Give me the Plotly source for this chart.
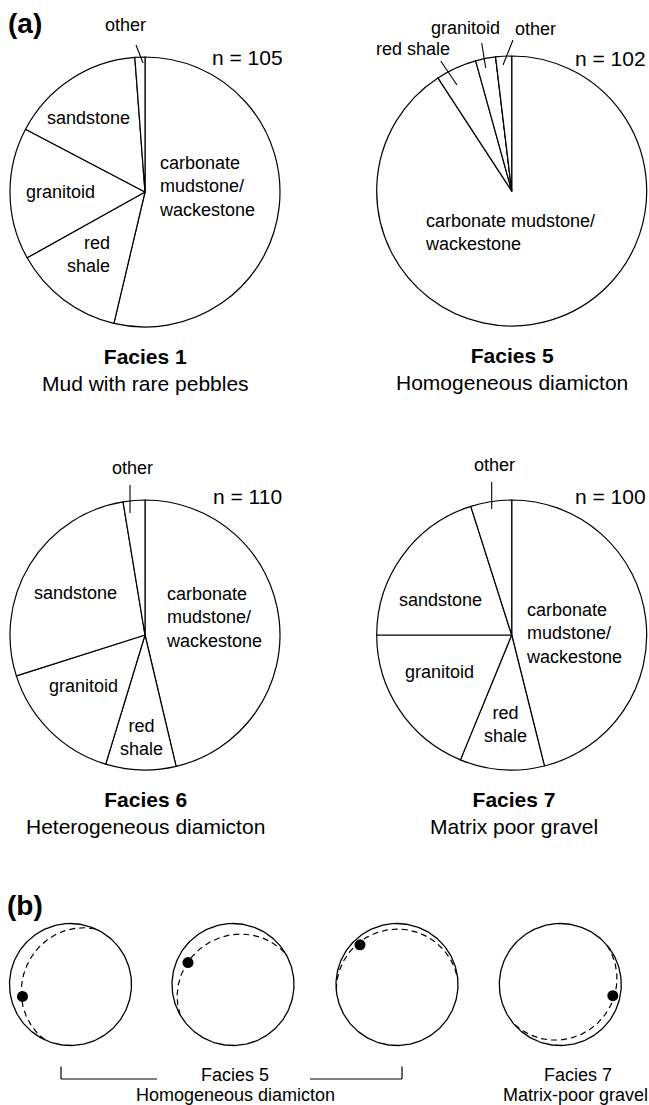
import numpy as np
import plotly.graph_objects as go

# ---------------- data ----------------
categories = ["carbonate mudstone/wackestone", "red shale", "granitoid", "sandstone", "other"]
facies1_pct = [53.7, 13.2, 15.8, 16.1, 1.2]
facies5_pct = [90.8, 4.9, 2.4, 0.0, 1.9]
facies6_pct = [46.3, 8.4, 15.4, 27.3, 2.6]
facies7_pct = [46.1, 10.1, 18.8, 20.1, 4.9]
sample_n = [105, 102, 110, 100]
facies_names = ["Facies 1", "Facies 5", "Facies 6", "Facies 7"]
facies_desc = ["Mud with rare pebbles", "Homogeneous diamicton",
               "Heterogeneous diamicton", "Matrix poor gravel"]

# (b) clast fabric stereonets: S1-S2 plane (dip direction, dip) and V1 (trend, plunge)
plane_dipdir = [295, 330, 355, 140]
plane_dip = [23, 22, 10, 13]
v1_trend = [256, 296, 317, 102]
v1_plunge = [20, 19, 12, 13]

# ---------------- layout constants ----------------
W, H = 649, 1105
FONT = "Arial, Liberation Sans, sans-serif"
pie_cx = [145, 511.7, 145, 511.7]
pie_cy = [192, 191, 635, 635]
pie_r = 135
net_cx = [70.5, 233.0, 397.0, 560.3]
net_cy = 984.5
net_r = 61

fig = go.Figure()

# ---------------- pies ----------------
for vals, cx, cy in zip([facies1_pct, facies5_pct, facies6_pct, facies7_pct], pie_cx, pie_cy):
    fig.add_trace(go.Pie(
        values=vals, labels=categories, sort=False, direction="clockwise", rotation=0,
        marker=dict(colors=["white"] * len(vals), line=dict(color="black", width=1.2)),
        textinfo="none", hoverinfo="skip", showlegend=False,
        domain=dict(x=[(cx - pie_r) / W, (cx + pie_r) / W],
                    y=[1 - (cy + pie_r) / H, 1 - (cy - pie_r) / H]),
    ))


# ---------------- stereonets ----------------
def eqarea(trend, plunge, R):
    r = R * np.sqrt(2) * np.sin(np.radians(90 - np.asarray(plunge)) / 2)
    t = np.radians(trend)
    return r * np.sin(t), r * np.cos(t)


def plane_curve(dipdir, dip, R, n=181):
    s = np.radians(dipdir - 90)
    dd = np.radians(dipdir)
    d = np.radians(dip)
    sv = np.array([np.sin(s), np.cos(s), 0.0])
    dv = np.array([np.sin(dd) * np.cos(d), np.cos(dd) * np.cos(d), np.sin(d)])
    rake = np.linspace(0, np.pi, n)
    v = np.outer(np.cos(rake), sv) + np.outer(np.sin(rake), dv)
    trend = np.degrees(np.arctan2(v[:, 0], v[:, 1]))
    plunge = np.degrees(np.arcsin(np.clip(v[:, 2], -1, 1)))
    return eqarea(trend, plunge, R)


theta = np.linspace(0, 2 * np.pi, 241)
for i, cx in enumerate(net_cx):
    fig.add_trace(go.Scatter(
        x=cx + net_r * np.sin(theta), y=net_cy - net_r * np.cos(theta),
        mode="lines", line=dict(color="black", width=1.3),
        hoverinfo="skip", showlegend=False))
    gx, gy = plane_curve(plane_dipdir[i], plane_dip[i], net_r)
    fig.add_trace(go.Scatter(
        x=cx + gx, y=net_cy - gy, mode="lines",
        line=dict(color="black", width=1.2, dash="6px,4px"),
        hoverinfo="skip", showlegend=False))
    px, py = eqarea([v1_trend[i]], [v1_plunge[i]], net_r)
    fig.add_trace(go.Scatter(
        x=cx + px, y=net_cy - py, mode="markers",
        marker=dict(color="black", size=11, line=dict(width=0)),
        hoverinfo="skip", showlegend=False))

# ---------------- annotations ----------------
ann = []


def add(x, y, text, size=18, xanchor="center", align="center"):
    ann.append(dict(x=x, y=y, xref="x", yref="y", text=text, showarrow=False,
                    xanchor=xanchor, yanchor="middle", align=align,
                    font=dict(family=FONT, size=size, color="black")))


add(25, 23, "<b>(a)</b>", size=28)
add(25, 905, "<b>(b)</b>", size=28)

carb = "carbonate<br>mudstone/<br>wackestone"
# Facies 1
add(125, 25, "other")
add(247, 57, f"n = {sample_n[0]}", size=21)
add(88, 118, "sandstone")
add(60, 192, "granitoid")
add(112, 254, "red<br>shale", xanchor="right", align="right")
add(157, 186, carb, xanchor="left", align="left")
# Facies 5
add(413, 49, "red shale")
add(465, 28, "granitoid")
add(535, 29, "other")
add(610, 58, f"n = {sample_n[1]}", size=21)
add(423, 232, "carbonate mudstone/<br>wackestone", xanchor="left", align="left")
# Facies 6
add(132, 468, "other")
add(247, 496, f"n = {sample_n[2]}", size=21)
add(75, 593, "sandstone")
add(164, 617, carb, xanchor="left", align="left")
add(83, 686, "granitoid")
add(141, 737, "red<br>shale")
# Facies 7
add(494, 465, "other")
add(610, 496, f"n = {sample_n[3]}", size=21)
add(440, 600, "sandstone")
add(524, 633, carb, xanchor="left", align="left")
add(439, 672, "granitoid")
add(505, 724, "red<br>shale")

# titles under pies
title_xy = [(145, 370), (512, 369), (145, 813), (514, 813)]
for (tx, ty), nm, ds in zip(title_xy, facies_names, facies_desc):
    add(tx, ty, f"<b>{nm}</b><br>{ds}", size=21)

# part (b) captions
add(235, 1075, "Facies 5")
add(235, 1095, "Homogeneous diamicton")
add(578, 1075, "Facies 7")
add(575, 1095, "Matrix-poor gravel")

# ---------------- shapes (leader lines, bracket) ----------------
shapes = []


def seg(x0, y0, x1, y1, w=1.1):
    shapes.append(dict(type="line", xref="x", yref="y", x0=x0, y0=y0, x1=x1, y1=y1,
                       line=dict(color="black", width=w)))


seg(136, 45, 143, 63)            # facies 1 other
seg(440.7, 61, 457, 85)          # facies 5 red shale
seg(481.7, 43, 485.7, 68)        # facies 5 granitoid
seg(513, 40, 503, 65)            # facies 5 other
seg(130, 485, 130, 513)          # facies 6 other
seg(491.7, 482, 491.7, 509)      # facies 7 other
# bracket for Facies 5
seg(61, 1066.5, 61, 1079, 1.2)
seg(61, 1079, 157, 1079, 1.2)
seg(310, 1079, 402, 1079, 1.2)
seg(402, 1079, 402, 1066.5, 1.2)

fig.update_layout(
    width=W, height=H, autosize=False,
    margin=dict(l=0, r=0, t=0, b=0, pad=0),
    paper_bgcolor="white", plot_bgcolor="rgba(0,0,0,0)",
    xaxis=dict(range=[0, W], visible=False, fixedrange=True),
    yaxis=dict(range=[H, 0], visible=False, fixedrange=True),
    annotations=ann, shapes=shapes, showlegend=False,
)

fig.write_html(
    "out.html",
    config={"displayModeBar": False},
    post_script="document.body.style.margin='0';document.body.style.overflow='hidden';",
)
